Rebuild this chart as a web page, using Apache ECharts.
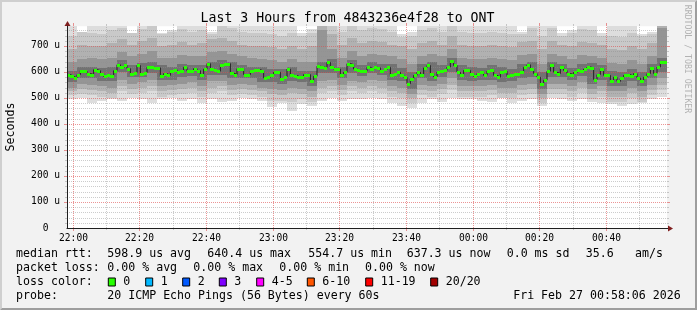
<!DOCTYPE html>
<html><head><meta charset="utf-8">
<script src="https://cdn.jsdelivr.net/npm/echarts@6/dist/echarts.min.js"></script>
<style>html,body{margin:0;padding:0;background:#f2f2f2;}#c{width:697px;height:310px;}</style>
</head><body><div id="c"></div>
<script>
// ---------- data ----------
const chartTitle = 'Last 3 Hours from 4843236e4f28 to ONT';
const yAxisName = 'Seconds';
const watermark = 'RRDTOOL / TOBI OETIKER';
const startMin = 58.3;          // minutes after 21:00 at left edge (21:58:18)
const yMax = 776;               // microseconds at top of plot
// median rtt (us), one value per minute
const median = [
 590,583,577,590,605,603,594,590,609,605,594,583,587,583,605,628,618,625,613,594,597,625,594,597,618,618,616,616,583,594,
 587,603,609,599,603,618,603,603,613,605,587,611,632,611,606,603,628,632,632,596,590,613,613,590,590,603,606,609,603,577,
 581,587,599,599,573,580,611,587,586,581,581,590,590,564,583,622,619,616,637,619,611,611,590,599,632,628,611,606,603,603,
 618,611,618,616,605,611,618,587,594,599,590,580,555,573,587,599,590,616,625,594,581,600,603,606,619,641,625,599,587,606,
 606,594,583,594,599,587,603,606,587,580,599,603,583,590,594,594,599,618,628,611,594,580,555,568,603,628,599,594,618,606,
 594,590,599,606,603,611,619,616,571,590,611,587,587,567,580,564,575,587,590,583,594,577,567,580,594,616,594,619,637,637
];
// smoke bands (us), one value per 3-minute column, outer -> inner
const bandMinutes = 3;
const lo1 = [495,500,480,490,495,490,500,495,480,495, 500,490,495,480,495,485,490,500,495,490, 465,480,450,475,470,490,500,490,495,495, 500,495,480,470,460,480,495,485,500,495, 495,490,485,500,480,490,495,470,500,495, 490,495,485,480,475,470,475,480,495,505];
const hi1 = [776,755,776,776,776,776,750,776,776,750, 760,776,776,776,755,776,776,776,776,776, 776,776,776,750,765,776,776,776,776,776, 776,776,776,745,755,776,776,776,776,776, 776,776,776,776,776,755,776,776,776,750, 760,776,776,750,776,776,776,745,755,776];
const lo2 = [510,515,510,505,500,525,515,520,525,505, 510,515,520,505,520,525,510,515,510,505, 490,490,485,495,485,520,525,510,525,520, 525,520,505,500,480,510,505,515,530,505, 505,505,510,500,500,510,515,480,515,515, 505,520,495,505,485,485,500,485,510,530];
const hi2 = [740,755,750,745,760,770,750,765,776,745, 755,765,755,760,745,776,770,755,750,750, 745,740,750,740,750,770,776,755,776,760, 770,765,755,735,740,760,770,755,776,755, 750,750,755,750,745,745,770,740,770,740, 750,765,760,740,740,735,750,740,745,776];
const lo3 = [525,535,530,525,520,545,535,540,545,525, 530,535,540,525,540,545,530,535,530,525, 515,510,520,515,505,540,545,530,545,540, 545,540,525,520,500,530,525,535,550,525, 525,525,530,520,520,530,535,500,535,535, 525,540,515,525,505,505,520,505,530,550];
const hi3 = [690,705,700,700,710,725,705,720,730,700, 705,715,705,710,725,730,720,705,700,700, 695,690,700,690,700,776,745,705,730,710, 720,715,705,700,690,710,720,705,740,705, 700,700,705,700,695,715,720,690,720,705, 700,715,710,705,690,685,700,690,710,776];
const lo4 = [540,555,550,545,540,570,555,560,570,545, 550,555,560,545,565,565,550,555,550,540, 535,530,540,535,525,565,570,550,565,560, 570,565,545,540,515,550,545,555,575,545, 545,545,550,540,540,550,555,515,555,555, 545,560,535,545,525,525,540,525,550,575];
const hi4 = [640,650,655,650,655,675,660,670,680,655, 655,665,660,660,675,680,670,660,655,650, 645,640,650,640,640,760,690,655,680,660, 670,665,660,650,630,660,670,660,690,655, 650,650,655,650,645,665,670,630,670,660, 650,665,660,655,635,630,645,630,660,770];
const lo5 = [560,575,575,565,565,600,580,580,595,570, 570,580,585,570,590,590,575,575,575,560, 560,555,565,560,545,595,595,575,595,585, 595,590,570,565,535,575,565,580,600,570, 565,570,570,560,565,575,580,535,580,580, 570,585,555,570,545,545,565,545,575,600];
const hi5 = [605,620,620,615,620,645,625,635,640,625, 620,630,625,625,640,645,640,625,620,620, 610,610,620,605,605,640,650,620,645,625, 640,630,630,615,600,630,640,625,655,625, 620,615,625,620,610,630,640,600,640,630, 615,630,635,625,605,600,610,600,630,655];
const bandColors = ['#dddddd','#c9c9c9','#b1b1b1','#959595','#727272'];
// axes
const xTickMinutes = [60,80,100,120,140,160,180,200,220];
const xTickLabels = ['22:00','22:20','22:40','23:00','23:20','23:40','00:00','00:20','00:40'];
const xMinorMinutes = [70,90,110,130,150,170,190,210,230];
const yMajor = [100,200,300,400,500,600,700];
const yMinorStep = 20;
// legend
const statsLine1 = [['median rtt:',16],['598.9 us avg',107.3],['640.4 us max',207.3],['554.7 us min',308.3],['637.3 us now',406.7],['0.0 ms sd',506.7],['35.6',585.7],['am/s',635]];
const statsLine2 = [['packet loss:',16],['0.00 % avg',107.3],['0.00 % max',193.3],['0.00 % min',279.3],['0.00 % now',365]];
const lossLabels = ['0','1','2','3','4-5','6-10','11-19','20/20'];
const lossColors = ['#26ff00','#00b8ff','#0059ff','#7e00ff','#ff00ff','#ff5500','#ff0000','#a10000'];
const lossBoxX = [108.3,145.7,182.7,219.3,256.7,307.3,365.7,430.7];
const probeText = '20 ICMP Echo Pings (56 Bytes) every 60s';
const dateText = 'Fri Feb 27 00:58:06 2026';

// ---------- chart ----------
const MONO = '"DejaVu Sans Mono", monospace';
const endMin = startMin + median.length;
const chart = echarts.init(document.getElementById('c'), null, {renderer:'canvas', width:697, height:310});

function bandSeries(lo, hi, color) {
  return {
    type:'custom', z:1, silent:true, clip:false,
    data: lo.map((l, c) => [startMin + c*bandMinutes, startMin + (c+1)*bandMinutes, l, hi[c]]),
    encode:{x:[0,1], y:[2,3]},
    renderItem(params, api) {
      const a = api.coord([api.value(0), api.value(3)]);
      const b = api.coord([api.value(1), api.value(2)]);
      const x0 = Math.round(a[0]), x1 = Math.round(b[0]);
      const y0 = Math.round(a[1]), y1 = Math.round(b[1]);
      return {type:'rect', shape:{x:x0, y:y0, width:x1-x0, height:y1-y0}, style:{fill:color}};
    }
  };
}
const MINOR = 'rgba(143,143,143,0.45)';
const MAJOR = 'rgba(222,79,79,0.6)';
const yMinor = [];
for (let v = yMinorStep; v < yMax; v += yMinorStep) if (v % 100 !== 0) yMinor.push(v);

function hLineSeries(vals, color, tick) {
  return {
    type:'custom', z:3, silent:true, clip:false,
    data: vals.map(v => [v]),
    encode:{y:0},
    renderItem(params, api) {
      const a = api.coord([startMin, api.value(0)]);
      const b = api.coord([endMin, api.value(0)]);
      const y = Math.round(a[1]) + 0.5;
      const x0 = Math.round(a[0]), x1 = Math.round(b[0]);
      return {type:'group', children:[
        {type:'line', shape:{x1:x0, y1:y, x2:x1, y2:y}, style:{stroke:color, lineWidth:1, lineDash:[1,1]}},
        {type:'line', shape:{x1:x0-tick, y1:y, x2:x0, y2:y}, style:{stroke:color, lineWidth:1}},
        {type:'line', shape:{x1:x1, y1:y, x2:x1+tick, y2:y}, style:{stroke:color, lineWidth:1}}
      ]};
    }
  };
}
function vLineSeries(vals, color, tick) {
  return {
    type:'custom', z:3, silent:true, clip:false,
    data: vals.map(v => [v]),
    encode:{x:0},
    renderItem(params, api) {
      const a = api.coord([api.value(0), 0]);
      const b = api.coord([api.value(0), yMax]);
      const x = Math.round(a[0]) + 0.5;
      const y0 = Math.round(a[1]), y1 = Math.round(b[1]);
      return {type:'group', children:[
        {type:'line', shape:{x1:x, y1:y0, x2:x, y2:y1}, style:{stroke:color, lineWidth:1, lineDash:[1,1]}},
        {type:'line', shape:{x1:x, y1:y0, x2:x, y2:y0+tick}, style:{stroke:color, lineWidth:1}},
        {type:'line', shape:{x1:x, y1:y1, x2:x, y2:y1-tick}, style:{stroke:color, lineWidth:1}}
      ]};
    }
  };
}

const series = [
  bandSeries(lo1, hi1, bandColors[0]),
  bandSeries(lo2, hi2, bandColors[1]),
  bandSeries(lo3, hi3, bandColors[2]),
  bandSeries(lo4, hi4, bandColors[3]),
  bandSeries(lo5, hi5, bandColors[4]),
  hLineSeries(yMinor, MINOR, 2),
  vLineSeries(xMinorMinutes, MINOR, 2),
  hLineSeries(yMajor, MAJOR, 3),
  vLineSeries(xTickMinutes, MAJOR, 3),
  { // dark connecting median line
    type:'line', z:4, silent:true, step:'end', symbol:'none', animation:false,
    data: median.map((v,i) => [startMin + i, v]).concat([[endMin, median[median.length-1]]]),
    lineStyle:{color:'#202020', width:1}
  },
  { // green median (0 loss) band
    type:'custom', z:5, silent:true, clip:false,
    data: median.map((v,i) => [startMin + i, v]),
    encode:{x:0, y:1},
    renderItem(params, api) {
      const a = api.coord([api.value(0), api.value(1)]);
      const b = api.coord([api.value(0) + 1, api.value(1)]);
      const x0 = Math.round(a[0]), x1 = Math.round(b[0]);
      const y = Math.round(a[1]);
      return {type:'rect', shape:{x:x0, y:y-1, width:x1-x0, height:3}, style:{fill:lossColors[0]}};
    }
  },
  { // x tick labels
    type:'custom', z:6, silent:true, clip:false,
    data: xTickMinutes.map(m => [m]),
    encode:{x:0},
    renderItem(params, api) {
      const p = api.coord([api.value(0), 0]);
      return {type:'text', x:Math.round(p[0]) + 0.5, y:p[1] + 10,
        style:{text:xTickLabels[params.dataIndex], fill:'#000', font:'9.6px ' + MONO, align:'center', verticalAlign:'middle'}};
    }
  },
  { // axis arrows
    type:'custom', z:8, silent:true, clip:false,
    data:[[0]],
    renderItem(params, api) {
      const t = api.coord([startMin, yMax]);
      const r = api.coord([endMin, 0]);
      const tx = Math.round(t[0]) + 0.5, ty = Math.round(t[1]);
      const rx = Math.round(r[0]), ry = Math.round(r[1]) + 0.5;
      return {type:'group', children:[
        {type:'line', shape:{x1:tx, y1:ty+1, x2:tx, y2:ty-4}, style:{stroke:'#1f1f1f', lineWidth:1}},
        {type:'line', shape:{x1:rx-1, y1:ry, x2:rx+3, y2:ry}, style:{stroke:'#1f1f1f', lineWidth:1}},
        {type:'polygon', shape:{points:[[tx-3, ty], [tx+3, ty], [tx, ty-5]]}, style:{fill:'#801f1f'}},
        {type:'polygon', shape:{points:[[rx+1, ry-3], [rx+1, ry+3], [rx+6, ry]]}, style:{fill:'#801f1f'}}
      ]};
    }
  }
];

const graphic = [
  {type:'polygon', silent:true, shape:{points:[[0,310],[2,308],[2,2],[695,2],[697,0],[0,0]]}, style:{fill:'#cfcfcf'}},
  {type:'polygon', silent:true, shape:{points:[[2,308],[695,308],[695,2],[697,0],[697,310],[0,310]]}, style:{fill:'#9e9e9e'}},
  {type:'text', silent:true, x:347.5, y:18.5, style:{text:chartTitle, font:'13.2px ' + MONO, fill:'#000', align:'center', verticalAlign:'middle'}},
  {type:'text', silent:true, x:10.5, y:127, rotation:Math.PI/2, style:{text:yAxisName, font:'11.6px ' + MONO, fill:'#000', align:'center', verticalAlign:'middle'}},
  {type:'text', silent:true, x:687, y:59, rotation:-Math.PI/2, style:{text:watermark, font:'8.2px ' + MONO, fill:'#b2b2b2', align:'center', verticalAlign:'middle'}}
];
function addText(str, x, y, align) {
  graphic.push({type:'text', silent:true, x:x, y:y, style:{text:str, font:'11.6px ' + MONO, fill:'#000', align:align || 'left', verticalAlign:'middle'}});
}
statsLine1.forEach(s => addText(s[0], s[1], 254.3));
statsLine2.forEach(s => addText(s[0], s[1], 268.3));
addText('loss color:', 16, 282.3);
lossLabels.forEach((lab, i) => {
  graphic.push({type:'rect', silent:true, shape:{x:lossBoxX[i], y:278, width:7, height:8}, style:{fill:lossColors[i], stroke:'#000', lineWidth:1}});
  addText(lab, lossBoxX[i] + 15, 282.3);
});
addText('probe:', 16, 296);
addText(probeText, 107.3, 296);
addText(dateText, 680.7, 296, 'right');

chart.setOption({
  animation:false,
  backgroundColor:'#f2f2f2',
  grid:{left:67, top:26.2, width:600, height:201.8, show:true, backgroundColor:'#ffffff', borderWidth:0},
  xAxis:{type:'value', min:startMin, max:endMin, z:10,
    axisLine:{show:true, lineStyle:{color:'#1f1f1f', width:1}},
    axisTick:{show:false}, axisLabel:{show:false}, splitLine:{show:false}},
  yAxis:{type:'value', min:0, max:yMax, interval:100, z:10,
    axisLine:{show:true, lineStyle:{color:'#1f1f1f', width:1}},
    axisTick:{show:false}, splitLine:{show:false},
    axisLabel:{show:true, showMaxLabel:false, margin:7, color:'#000', fontFamily:'DejaVu Sans Mono', fontSize:9.6,
      formatter:v => v === 0 ? '0\u00a0\u00a0' : v + ' u'}},
  series:series,
  graphic:graphic
});
</script></body></html>
